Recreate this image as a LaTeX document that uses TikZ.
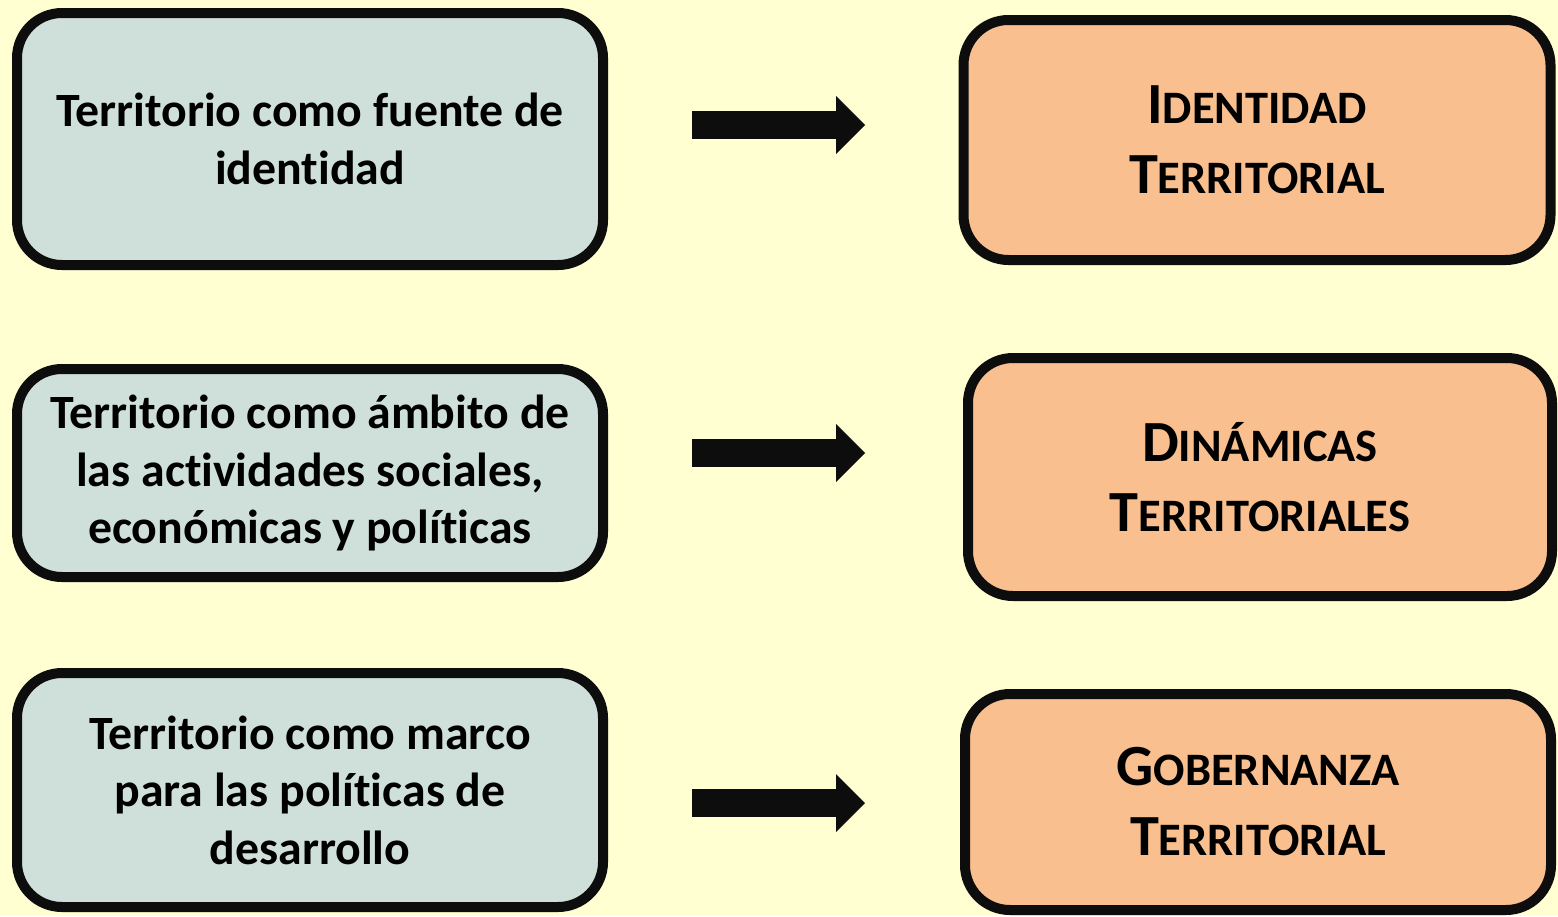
\documentclass[tikz,border=0pt]{standalone}
\usepackage{fontspec}
\setmainfont{Carlito}[Ligatures={NoCommon,NoContextual,NoRare},Contextuals=NoAlternate]
\usepackage{tikz}
\usetikzlibrary{arrows.meta}

\definecolor{fondo}{HTML}{FFFFD1}
\definecolor{gris}{HTML}{CFDFD9}
\definecolor{naranja}{HTML}{F9BF8F}
\definecolor{negro}{HTML}{0D0D0D}

% versalitas hechas a mano
\newcommand{\vers}[2]{#1{\fontsize{46.5}{70}\selectfont #2}}

\begin{document}
\begin{tikzpicture}[x=1pt,y=-1pt,
    caja/.style={draw=negro, line width=10pt, rounded corners=45pt, align=center,
        minimum width=586pt, font=\fontsize{47.8}{57.5}\selectfont\bfseries},
    izq/.style={caja, fill=gris},
    der/.style={caja, fill=naranja, font=\fontsize{58.3}{70}\selectfont\bfseries},
    flecha/.style={negro, line width=28pt, -{Triangle[length=29pt, width=58pt, line width=0pt]}}]
        \fill[fondo] (0,0) rectangle (1558,916);

        \node[izq, minimum height=252pt] (l1) at (310,139) {Territorio como fuente de\\identidad};
        \node[izq, minimum height=208pt] (l2) at (310,473) {Territorio como ámbito de\\las actividades sociales,\\económicas y políticas};
        \node[izq, minimum height=234pt] (l3) at (310,790) {Territorio como marco\\para las políticas de\\desarrollo};

        \node[der, minimum height=240pt, minimum width=587pt] (r1) at (1257,140) {\vers{I}{DENTIDAD}\\\vers{T}{ERRITORIAL}};
        \node[der, minimum height=238pt, minimum width=584pt] (r2) at (1260,477) {\vers{D}{INÁMICAS}\\\vers{T}{ERRITORIALES}};
        \node[der, minimum height=216pt, minimum width=586pt] (r3) at (1258,802) {\vers{G}{OBERNANZA}\\\vers{T}{ERRITORIAL}};

        \coordinate (a1) at (692,125);
        \coordinate (b1) at (865,125);
        \coordinate (a2) at (692,453);
        \coordinate (b2) at (865,453);
        \coordinate (a3) at (692,803);
        \coordinate (b3) at (865,803);

        \draw[flecha] (a1) -- (b1);
        \draw[flecha] (a2) -- (b2);
        \draw[flecha] (a3) -- (b3);
    \end{tikzpicture}
\end{document}
